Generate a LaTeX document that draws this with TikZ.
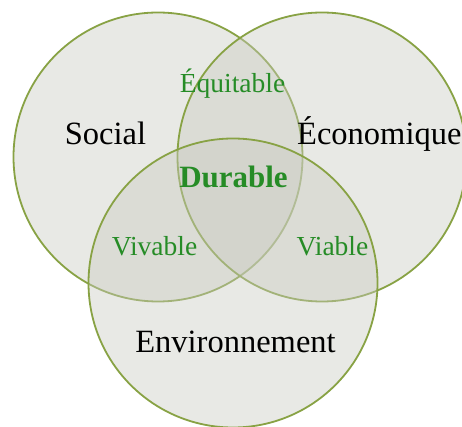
\documentclass[tikz,border=0pt]{standalone}
\usepackage{fontspec}
\setmainfont{Liberation Serif}
\definecolor{ringline}{RGB}{136,162,68}
\definecolor{ringfill}{RGB}{200,202,192}
\definecolor{lblgreen}{RGB}{38,140,38}
\tikzset{
  ring/.style={circle, draw=ringline, line width=1.8pt, fill=ringfill, fill opacity=0.42, minimum size=289pt, inner sep=0pt},
  mainlbl/.style={anchor=base, text=black, font=\fontsize{32.5}{39}\selectfont, inner sep=0pt},
  sublbl/.style={anchor=base, text=lblgreen, font=\fontsize{27.5}{33}\selectfont, inner sep=0pt},
  corelbl/.style={anchor=base, text=lblgreen, font=\fontsize{31}{37}\selectfont\bfseries, inner sep=0pt}
}
\begin{document}
\begin{tikzpicture}[x=1pt,y=-1pt]
\useasboundingbox (0,0) rectangle (462,427);
\node[ring] (soc) at (158,157) {};
\node[ring] (eco) at (322,157) {};
\node[ring] (env) at (233,283) {};
\node[mainlbl] (lsoc) at (105.5,145) {Social};
\node[mainlbl, anchor=base west] (leco) at (297,145) {Économique};
\node[mainlbl] (lenv) at (235.5,352) {Environnement};
\node[sublbl] (lequ) at (232.5,93) {Équitable};
\node[corelbl] (ldur) at (233.5,188) {Durable};
\node[sublbl] (lviv) at (154.5,255) {Vivable};
\node[sublbl] (lvia) at (332.5,255) {Viable};
\end{tikzpicture}
\end{document}
